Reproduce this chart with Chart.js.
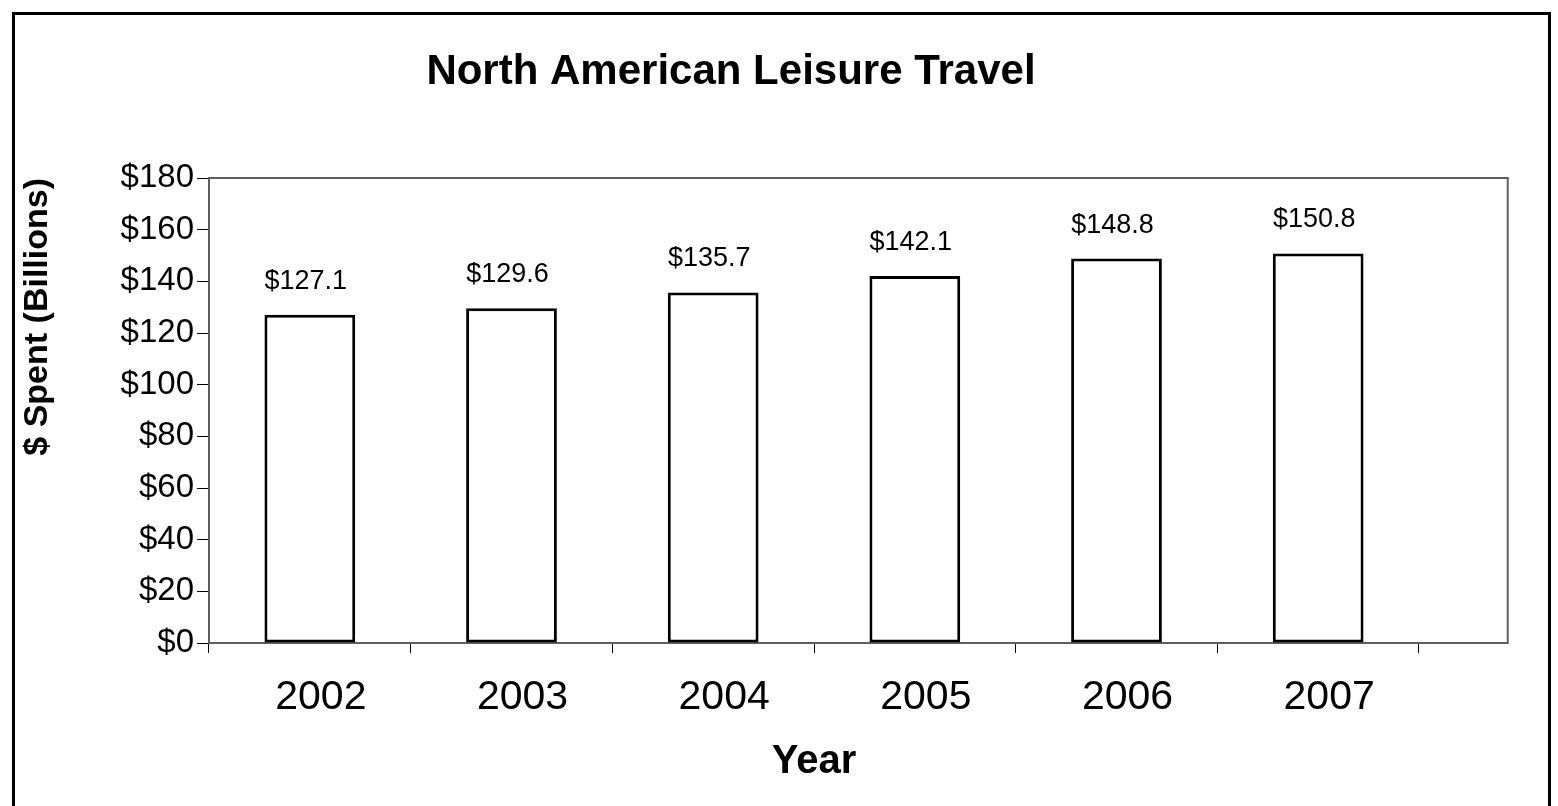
<!DOCTYPE html>
<html>
<head>
<meta charset="utf-8">
<title>North American Leisure Travel</title>
<script src="https://cdn.jsdelivr.net/npm/chart.js@4/dist/chart.umd.min.js"></script>
<style>
  html, body { margin: 0; padding: 0; background: #fff; overflow: hidden; }
  #frame {
    position: absolute; left: 12px; top: 12px;
    width: 1533px; height: 900px;
    border: 3px solid #000;
  }
  #wrap { position: absolute; left: 0; top: 0; width: 1558px; height: 806px; }
</style>
</head>
<body>
<div id="frame"></div>
<div id="wrap"><canvas id="travelChart"></canvas></div>
<script>
const years = ['2002', '2003', '2004', '2005', '2006', '2007'];
const spent = [127.1, 129.6, 135.7, 142.1, 148.8, 150.8];
const yTicks = [0, 20, 40, 60, 80, 100, 120, 140, 160, 180];

const FONT = "'Liberation Sans', Arial, sans-serif";

// gray box round the plot, running a little past the last category
const plotFrame = {
  id: 'plotFrame',
  beforeDatasetsDraw(chart) {
    const { ctx, chartArea } = chart;
    const x = chart.scales.x;
    const catWidth = x.width / years.length;
    const right = chartArea.right + catWidth * 0.44;
    ctx.save();
    ctx.strokeStyle = '#5f5f5f';
    ctx.lineWidth = 2;
    ctx.strokeRect(chartArea.left, chartArea.top, right - chartArea.left, chartArea.bottom - chartArea.top);
    ctx.restore();
  }
};

// value printed above each bar
const barValues = {
  id: 'barValues',
  afterDatasetsDraw(chart) {
    const { ctx } = chart;
    const meta = chart.getDatasetMeta(0);
    ctx.save();
    ctx.fillStyle = '#000';
    ctx.font = '27px ' + FONT;
    ctx.textAlign = 'center';
    ctx.textBaseline = 'alphabetic';
    meta.data.forEach((bar, i) => {
      ctx.fillText('$' + spent[i].toFixed(1), bar.x - 4, bar.y - 26);
    });
    ctx.restore();
  }
};

const ctx = document.getElementById('travelChart').getContext('2d');
const chart = new Chart(ctx, {
  type: 'bar',
  data: {
    labels: years,
    datasets: [{
      data: spent,
      backgroundColor: '#fff',
      borderColor: '#000',
      borderWidth: 3,
      borderSkipped: false,
      barPercentage: 0.45,
      categoryPercentage: 1.0
    }]
  },
  options: {
    responsive: true,
    maintainAspectRatio: false,
    animation: false,
    layout: { padding: { left: 43, right: 139, top: 47, bottom: 0 } },
    plugins: {
      legend: { display: false },
      tooltip: { enabled: false },
      title: {
        display: true,
        text: 'North American Leisure Travel',
        color: '#000',
        font: { family: FONT, size: 42, weight: 'bold' },
        padding: { top: 0, bottom: 80.6 }
      }
    },
    scales: {
      x: {
        offset: true,
        grid: {
          offset: true,
          drawOnChartArea: false,
          drawTicks: true,
          tickLength: 10,
          color: '#000',
          lineWidth: 1
        },
        border: { display: true, color: '#5f5f5f', width: 2 },
        ticks: {
          color: '#000',
          font: { family: FONT, size: 41, lineHeight: 1.0 },
          padding: 24,
          labelOffset: 11
        },
        title: {
          display: true,
          text: 'Year',
          color: '#000',
          font: { family: FONT, size: 40, weight: 'bold', lineHeight: 1.0 },
          padding: { top: 0, bottom: 24 }
        }
      },
      y: {
        min: 0,
        max: 180,
        afterFit(scale) { scale.width = 166; },
        afterBuildTicks(scale) { scale.ticks = yTicks.map(v => ({ value: v })); },
        grid: {
          drawOnChartArea: false,
          drawTicks: true,
          tickLength: 12,
          color: '#000',
          lineWidth: 1
        },
        border: { display: true, color: '#000', width: 2 },
        ticks: {
          color: '#000',
          font: { family: FONT, size: 33 },
          padding: 3,
          callback: v => '$' + v
        },
        title: {
          display: true,
          text: '$ Spent (Billions)',
          align: 'end',
          color: '#000',
          font: { family: FONT, size: 34, weight: 'bold', lineHeight: 1.0 },
          padding: { top: -22, bottom: 0 }
        }
      }
    }
  },
  plugins: [plotFrame, barValues]
});
</script>
</body>
</html>
